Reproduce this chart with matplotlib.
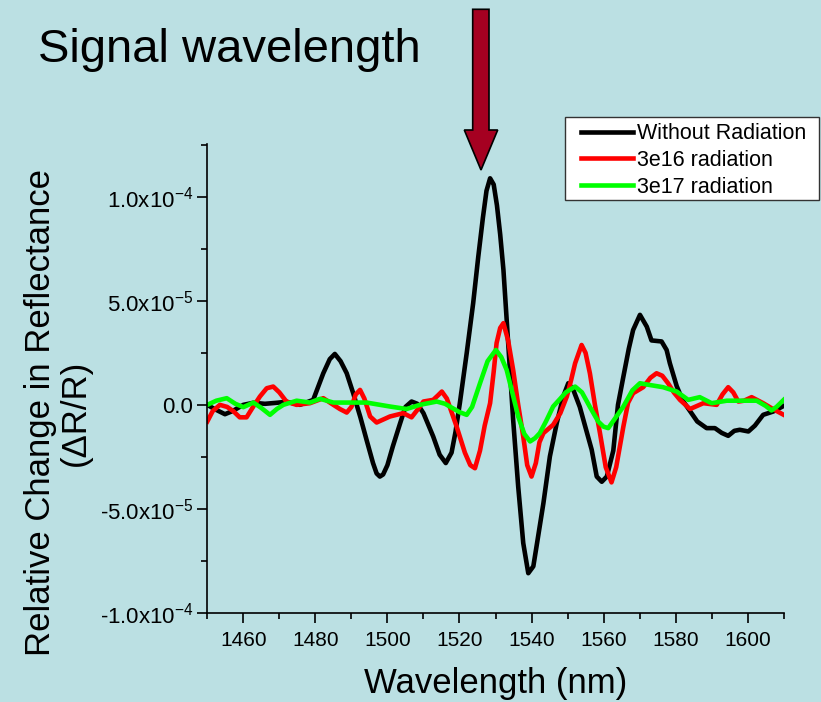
import matplotlib
matplotlib.use("Agg")
import matplotlib.pyplot as plt
from matplotlib.patches import Polygon, Rectangle
from matplotlib.ticker import FixedLocator, FixedFormatter

# ===== DATA (in units of 1e-5) =====
wl_black = [1450, 1452, 1454.9, 1457, 1460, 1462.8, 1466, 1469.3, 1472, 1475.7,
            1479.4, 1482.2, 1484, 1485.4, 1487, 1488.7, 1490.5, 1492.5, 1494.2, 1496,
            1497, 1497.9, 1498.8, 1500, 1501.5, 1503.5, 1505, 1506.7, 1508.3, 1510,
            1512.7, 1514.5, 1516.2, 1517.8, 1518.9, 1520.1, 1522, 1523.8, 1525.2, 1526.5,
            1527.5, 1528.5, 1529.5, 1530.4, 1531.3, 1532.2, 1533.1, 1534, 1534.9, 1536.3,
            1537.7, 1539.1, 1540.5, 1541.4, 1543.3, 1545.1, 1547, 1548.8, 1550.2, 1551.6,
            1553.4, 1555, 1556.7, 1558.1, 1559.5, 1560.9, 1562.7, 1564, 1565.5, 1567,
            1568.2, 1570.1, 1572, 1573.3, 1576.1, 1577.5, 1578.4, 1580.3, 1582, 1584,
            1586, 1588.6, 1590.9, 1592.8, 1594.6, 1596.3, 1597.8, 1600.2, 1602, 1604.3,
            1607.1, 1610]
dr_black = [0, -0.2, -0.45, -0.3, 0, 0.1, 0.05, 0.1, 0.15, 0,
            0.24, 1.52, 2.2, 2.45, 2.1, 1.52, 0.56, -0.6, -1.68, -2.8,
            -3.3, -3.45, -3.35, -2.9, -2.0, -0.9, -0.1, 0.16, 0.05, -0.4,
            -1.52, -2.4, -2.8, -2.3, -1.3, 0.08, 2.48, 4.89, 7.1, 9.0,
            10.3, 10.9, 10.6, 9.6, 8.2, 6.5, 4.1, 1.68, -0.72, -3.93,
            -6.65, -8.1, -7.77, -6.8, -4.73, -2.48, -0.88, 0.4, 1.04, 0.72,
            -0.1, -1.1, -2.16, -3.45, -3.7, -3.45, -2.2, 0, 1.36, 2.7,
            3.6, 4.33, 3.76, 3.1, 3.05, 2.64, 2.0, 0.9, 0.2, -0.3,
            -0.8, -1.12, -1.12, -1.35, -1.49, -1.25, -1.2, -1.28, -1.0, -0.48,
            -0.32, -0.05]

wl_red = [1450, 1451.5, 1453.5, 1455.5, 1457.2, 1459, 1460.9, 1462.7, 1464.6, 1466.5,
          1468.3, 1470, 1472, 1474.8, 1478.5, 1482.2, 1485, 1486.8, 1488.7, 1490,
          1491.2, 1492.4, 1493.6, 1495.2, 1497, 1500.7, 1504.4, 1506.7, 1508.5, 1510,
          1512.7, 1514, 1515.1, 1516.5, 1519.2, 1521.5, 1523, 1524.3, 1525.7, 1527,
          1528.5, 1529.5, 1530.3, 1531.3, 1532.2, 1533.5, 1534.9, 1536.3, 1537.7, 1538.8,
          1540, 1541.2, 1542.2, 1543.3, 1546, 1548, 1549.8, 1551, 1552.1, 1553.9,
          1555, 1556.2, 1557.6, 1559, 1560.6, 1562.2, 1563.5, 1565.5, 1566.8, 1568.2,
          1571, 1573, 1574.7, 1576.3, 1577.9, 1579.5, 1581.2, 1584, 1587.7, 1591.4,
          1593, 1594.6, 1596, 1597.4, 1599, 1601.1, 1604.3, 1607, 1610]
dr_red = [-0.8, -0.3, 0, -0.1, -0.3, -0.6, -0.6, -0.1, 0.4, 0.8,
          0.88, 0.6, 0.15, 0, 0.08, 0.32, 0, -0.2, -0.37, -0.1,
          0.5, 0.72, 0.3, -0.56, -0.85, -0.56, -0.4, -0.6, -0.2, 0.16,
          0.24, 0.45, 0.64, 0.3, -1.04, -2.3, -2.9, -3.05, -2.2, -1.0,
          0.08, 1.6, 2.97, 3.7, 3.93, 3.1, 1.68, 0, -1.52, -2.9,
          -3.45, -2.8, -1.8, -1.36, -0.96, -0.4, 0.4, 1.2, 2.0, 2.88,
          2.5, 1.52, 0, -1.36, -3.0, -3.73, -3.0, -1.04, 0.1, 0.56,
          0.85, 1.3, 1.52, 1.4, 1.04, 0.6, 0.24, -0.2, 0.08, 0,
          0.5, 0.85, 0.6, 0.16, 0.2, 0.37, 0.08, -0.2, -0.48]

wl_green = [1450, 1452.5, 1455.4, 1457.8, 1460, 1462.8, 1465, 1467.4, 1469.3, 1471.1,
            1474.8, 1478.5, 1481.3, 1485, 1494.2, 1500.7, 1505.3, 1509, 1513.7, 1516,
            1518, 1520, 1522, 1523.5, 1525.7, 1527.8, 1530.1, 1531.6, 1533.1, 1534.8,
            1536.3, 1538, 1539.6, 1541, 1542.3, 1544, 1546, 1548, 1549.5, 1552.1,
            1554, 1556.2, 1558.5, 1560, 1561.3, 1563, 1565.5, 1568, 1570.1, 1573,
            1576.5, 1580.3, 1583.5, 1586.7, 1590, 1594.2, 1602.5, 1605, 1606.6, 1608, 1610]
dr_green = [0, 0.2, 0.32, 0.05, -0.11, 0.11, -0.15, -0.48, -0.2, 0,
            0.2, 0.11, 0.29, 0.11, 0.11, -0.08, -0.2, 0.0, 0.16, 0.05,
            -0.15, -0.35, -0.48, -0.1, 1.04, 2.1, 2.64, 2.3, 1.68, 0.5,
            -0.56, -1.4, -1.76, -1.6, -1.36, -0.8, -0.08, 0.3, 0.6, 0.88,
            0.6, -0.1, -0.8, -1.05, -1.12, -0.7, -0.08, 0.7, 1.04, 0.95,
            0.85, 0.64, 0.24, 0.37, 0.08, 0.2, 0.2, -0.05, -0.27, -0.1, 0.24]

series_names = ["Without Radiation", "3e16 radiation", "3e17 radiation"]
x_ticks = [1460, 1480, 1500, 1520, 1540, 1560, 1580, 1600]
y_ticks = [-1e-4, -5e-5, 0, 5e-5, 1e-4]
y_tick_labels = ["-1.0x10$^{-4}$", "-5.0x10$^{-5}$", "0.0", "5.0x10$^{-5}$", "1.0x10$^{-4}$"]

# ===== STYLE =====
plt.rcParams['font.family'] = ['Liberation Sans', 'DejaVu Sans']
plt.rcParams['mathtext.fontset'] = 'custom'
plt.rcParams['mathtext.rm'] = 'Liberation Sans'
plt.rcParams['mathtext.default'] = 'regular'
bg = '#bbe0e3'
W, H = 821, 702

fig = plt.figure(figsize=(W / 100, H / 100), dpi=100, facecolor=bg)
ax = fig.add_axes([207.3 / W, 1 - 612.7 / H, (783.7 - 207.3) / W, (612.7 - 144) / H])
ax.set_facecolor(bg)

# ===== CURVES =====
scale = 1e-5
ax.plot(wl_black, [v * scale for v in dr_black], color='black', lw=3.3, label=series_names[0],
        solid_joinstyle='round')
ax.plot(wl_red, [v * scale for v in dr_red], color='#ff0000', lw=3.3, label=series_names[1],
        solid_joinstyle='round')
ax.plot(wl_green, [v * scale for v in dr_green], color='#00ff00', lw=3.3, label=series_names[2],
        solid_joinstyle='round')

ax.set_xlim(1450, 1610)
ax.set_ylim(-1e-4, 1.255e-4)

# ===== AXES / TICKS =====
for s in ['top', 'right']:
    ax.spines[s].set_visible(False)
for s in ['left', 'bottom']:
    ax.spines[s].set_linewidth(1.2)

ax.xaxis.set_major_locator(FixedLocator(x_ticks))
ax.xaxis.set_minor_locator(FixedLocator([1450 + 10 * i for i in range(17)]))
ax.yaxis.set_major_locator(FixedLocator(y_ticks))
ax.yaxis.set_major_formatter(FixedFormatter(y_tick_labels))
ax.yaxis.set_minor_locator(FixedLocator([-7.5e-5, -2.5e-5, 2.5e-5, 7.5e-5, 1.25e-4]))
ax.tick_params(axis='both', which='major', direction='out', length=7, width=1.2, colors='black')
ax.tick_params(axis='both', which='minor', direction='out', length=4.5, width=1.2)
ax.tick_params(axis='x', pad=6, labelsize=15)
ax.tick_params(axis='y', pad=3, labelsize=16)

# ===== LABELS =====
fig.text(495.5 / W, 1 - 683 / H, "Wavelength (nm)", fontsize=25, ha='center', va='center')
fig.text(58 / W, 1 - 413 / H, "Relative Change in Reflectance\n(\u0394R/R)", fontsize=25,
         rotation=90, ha='center', va='center', multialignment='center', linespacing=1.1)
fig.text(38 / W, 1 - 50 / H, "Signal wavelength", fontsize=34, ha='left', va='center')

# ===== ARROW =====
arrow_pts = [(472.7, 9.3), (489, 9.3), (489, 130), (497.7, 130), (481, 170),
             (464.3, 130), (472.7, 130)]
arrow = Polygon([(px / W, 1 - py / H) for px, py in arrow_pts], closed=True,
                transform=fig.transFigure, facecolor='#a50021', edgecolor='black', lw=1.2)
fig.patches.append(arrow)

# ===== LEGEND =====
box = Rectangle((565 / W, 1 - 200 / H), (819 - 565) / W, (200 - 117) / H,
                transform=fig.transFigure, facecolor='white', edgecolor='#333333', lw=1.0)
fig.patches.append(box)
leg = fig.legend(loc='center left', bbox_to_anchor=(581 / W, 1 - 160.5 / H),
                 bbox_transform=fig.transFigure, fontsize=15.5, frameon=False,
                 handlelength=2.4, handletextpad=0.2, labelspacing=0.27,
                 borderpad=0, borderaxespad=0)

fig.savefig("out.png", dpi=100, facecolor=bg)
